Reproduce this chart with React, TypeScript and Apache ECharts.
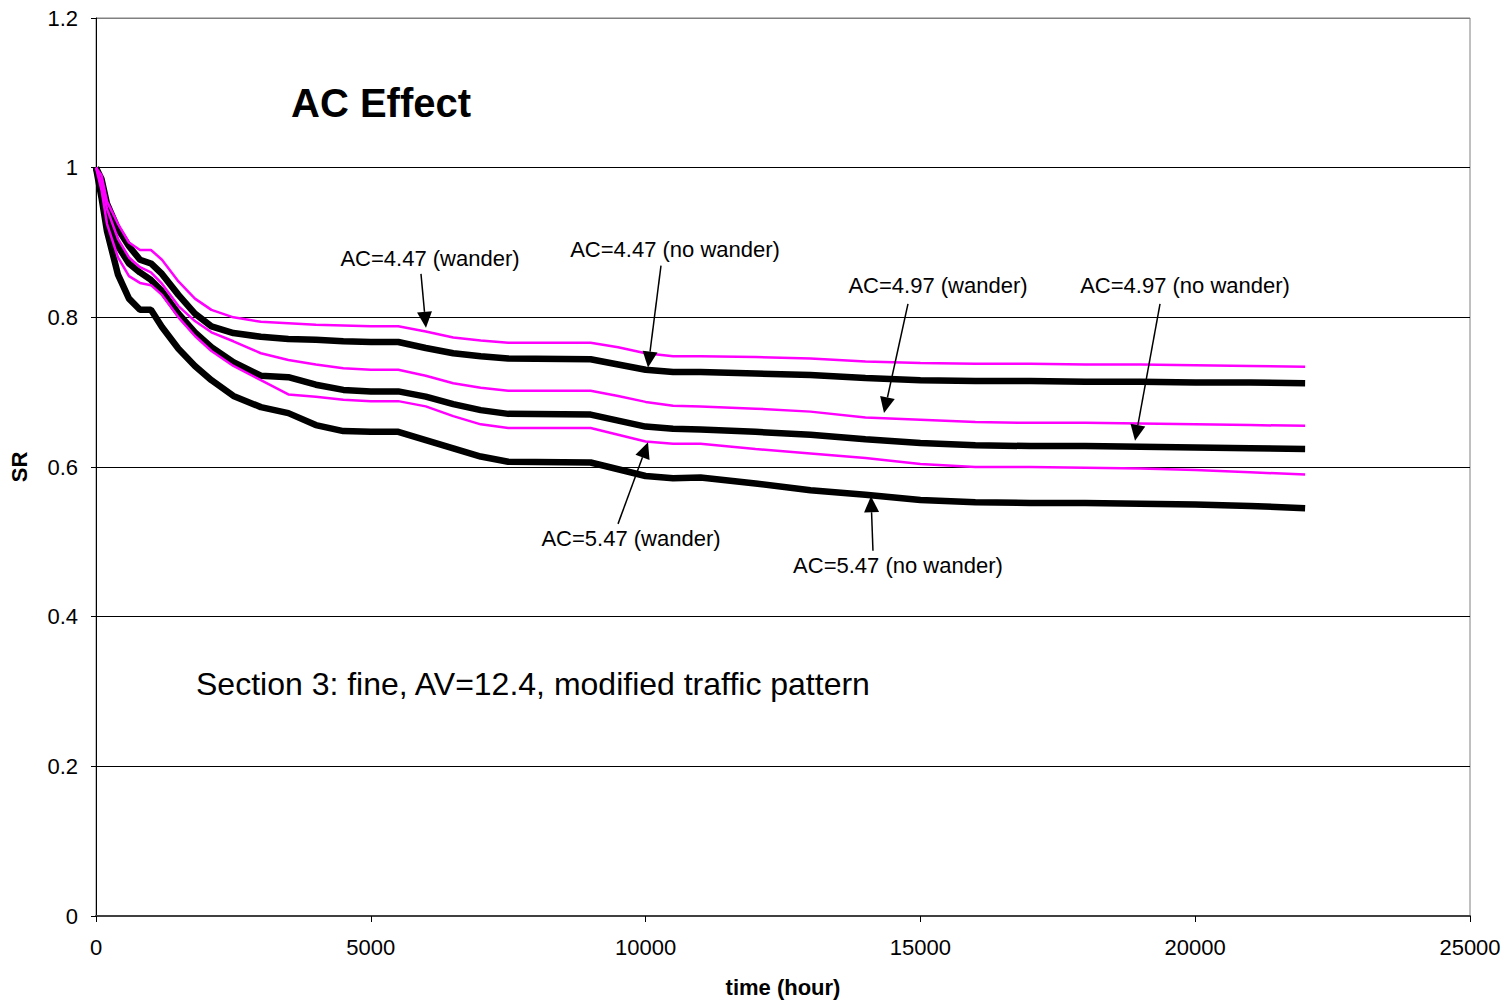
import React, { useEffect, useRef } from "react";
import * as echarts from "echarts";

const hours = [0, 100, 200, 400, 600, 800, 1000, 1200, 1500, 1800, 2100, 2500, 3000, 3500, 4000, 4500, 5000, 5500, 6000, 6500, 7000, 7500, 9000, 9500, 10000, 10500, 11000, 12000, 13000, 14000, 15000, 16000, 17000, 18000, 19000, 20000, 21000, 22000];

const ac447Wander = [1.0, 0.99, 0.955, 0.925, 0.9, 0.89, 0.89, 0.877, 0.848, 0.825, 0.81, 0.8, 0.794, 0.792, 0.79, 0.789, 0.788, 0.788, 0.781, 0.773, 0.769, 0.766, 0.766, 0.76, 0.752, 0.748, 0.748, 0.747, 0.745, 0.741, 0.739, 0.738, 0.738, 0.737, 0.737, 0.736, 0.735, 0.734];
const ac447NoWander = [1.0, 0.985, 0.952, 0.918, 0.895, 0.877, 0.872, 0.858, 0.83, 0.805, 0.788, 0.779, 0.774, 0.771, 0.77, 0.768, 0.767, 0.767, 0.759, 0.752, 0.748, 0.745, 0.744, 0.737, 0.73, 0.727, 0.727, 0.725, 0.723, 0.719, 0.716, 0.715, 0.715, 0.714, 0.714, 0.713, 0.713, 0.712];
const ac497Wander = [1.0, 0.98, 0.945, 0.905, 0.88, 0.867, 0.86, 0.845, 0.815, 0.795, 0.78, 0.768, 0.752, 0.743, 0.737, 0.732, 0.73, 0.73, 0.722, 0.712, 0.706, 0.702, 0.702, 0.695, 0.687, 0.682, 0.681, 0.678, 0.674, 0.666, 0.663, 0.66, 0.659, 0.659, 0.658, 0.657, 0.656, 0.655];
const ac497NoWander = [1.0, 0.978, 0.935, 0.895, 0.872, 0.86, 0.85, 0.835, 0.805, 0.78, 0.76, 0.74, 0.722, 0.72, 0.71, 0.703, 0.701, 0.701, 0.694, 0.684, 0.676, 0.671, 0.67, 0.662, 0.654, 0.651, 0.65, 0.647, 0.643, 0.637, 0.632, 0.629, 0.628, 0.628, 0.627, 0.626, 0.625, 0.624];
const ac547Wander = [1.0, 0.97, 0.925, 0.88, 0.855, 0.846, 0.843, 0.83, 0.8, 0.775, 0.755, 0.735, 0.716, 0.697, 0.694, 0.69, 0.688, 0.688, 0.681, 0.668, 0.657, 0.652, 0.652, 0.643, 0.634, 0.631, 0.631, 0.624, 0.618, 0.612, 0.604, 0.6, 0.6, 0.599, 0.598, 0.596, 0.593, 0.59];
const ac547NoWander = [1.0, 0.96, 0.915, 0.857, 0.825, 0.81, 0.81, 0.787, 0.758, 0.735, 0.716, 0.695, 0.68, 0.672, 0.656, 0.648, 0.647, 0.647, 0.636, 0.625, 0.614, 0.607, 0.606, 0.597, 0.588, 0.585, 0.586, 0.578, 0.569, 0.563, 0.556, 0.553, 0.552, 0.552, 0.551, 0.55, 0.548, 0.545];

const yTicks = ["0", "0.2", "0.4", "0.6", "0.8", "1", "1.2"];
const xTicks = ["0", "5000", "10000", "15000", "20000", "25000"];

// annotation label, label anchor, arrow tail, arrow tip (data coords)
const annotations: { text: string; label: [number, number]; tail: [number, number]; tip: [number, number] }[] = [
  { text: "AC=4.47 (wander)", label: [6077, 0.879], tail: [5913, 0.858], tip: [6004, 0.786] },
  { text: "AC=4.47 (no wander)", label: [10535, 0.89], tail: [10280, 0.869], tip: [10044, 0.733] },
  { text: "AC=4.97 (wander)", label: [15320, 0.842], tail: [14774, 0.818], tip: [14338, 0.672] },
  { text: "AC=4.97 (no wander)", label: [19815, 0.842], tail: [19360, 0.818], tip: [18905, 0.635] },
  { text: "AC=5.47 (wander)", label: [9734, 0.504], tail: [9498, 0.524], tip: [10044, 0.633] },
  { text: "AC=5.47 (no wander)", label: [14592, 0.468], tail: [14137, 0.488], tip: [14101, 0.561] },
];

const FONT = "'Liberation Sans', Arial, sans-serif";

function pairs(ys: number[]) {
  return hours.map((h, i) => [h, ys[i]]);
}

export default function App() {
  const ref = useRef<HTMLDivElement>(null);
  useEffect(() => {
    document.body.style.margin = "0";
    const chart = echarts.init(ref.current!, undefined, { renderer: "svg" });
    const black = (name: string, d: number[]) => ({
      name, type: "line", data: pairs(d), showSymbol: false, symbol: "none",
      lineStyle: { color: "#000", width: 6.5 }, z: 2,
    });
    const mag = (name: string, d: number[]) => ({
      name, type: "line", data: pairs(d), showSymbol: false, symbol: "none",
      lineStyle: { color: "#FF00FF", width: 2.5 }, z: 3,
    });
    chart.setOption({
      animation: false,
      backgroundColor: "#fff",
      textStyle: { fontFamily: FONT },
      grid: { left: 96, right: 38, top: 18, bottom: 89, show: true, borderColor: "#808080", borderWidth: 1 },
      xAxis: {
        type: "value", min: 0, max: 25000, interval: 5000,
        name: "time (hour)", nameLocation: "middle", nameGap: 60,
        nameTextStyle: { fontSize: 22, fontWeight: "bold", color: "#000", fontFamily: FONT },
        axisLine: { lineStyle: { color: "#404040", width: 2 } },
        axisTick: { show: true, inside: false, length: 6, lineStyle: { color: "#000" } },
        axisLabel: {
          fontSize: 22, color: "#000", margin: 20, fontFamily: FONT,
          formatter: (v: number) => xTicks[Math.round(v / 5000)] ?? String(v),
        },
        splitLine: { show: false },
      },
      yAxis: {
        type: "value", min: 0, max: 1.2, interval: 0.2,
        name: "SR", nameLocation: "middle", nameGap: 66,
        nameTextStyle: { fontSize: 22, fontWeight: "bold", color: "#000", fontFamily: FONT },
        axisLine: { show: true, lineStyle: { color: "#000", width: 1 } },
        axisTick: { show: true, inside: false, length: 5, lineStyle: { color: "#000" } },
        axisLabel: {
          fontSize: 22, color: "#000", margin: 18, fontFamily: FONT,
          formatter: (v: number) => yTicks[Math.round(v / 0.2)] ?? String(v),
        },
        splitLine: { show: true, lineStyle: { color: ["#000", "#000", "#000", "#000", "#000", "#000", "#808080"], width: 1 } },
      },
      title: {
        text: "AC Effect", left: 286, top: 78,
        textStyle: { fontSize: 40, fontWeight: "bold", color: "#000", fontFamily: FONT },
      },
      series: [
        black("AC=4.47 (no wander)", ac447NoWander),
        black("AC=4.97 (no wander)", ac497NoWander),
        black("AC=5.47 (no wander)", ac547NoWander),
        mag("AC=4.47 (wander)", ac447Wander),
        mag("AC=4.97 (wander)", ac497Wander),
        mag("AC=5.47 (wander)", ac547Wander),
      ],
    });

    const px = (p: [number, number]) => chart.convertToPixel({ gridIndex: 0 }, p) as number[];
    const elements: any[] = [];
    annotations.forEach((a) => {
      const [lx, ly] = px(a.label);
      const [tx, ty] = px(a.tail);
      const [hx, hy] = px(a.tip);
      const dx = hx - tx, dy = hy - ty;
      const len = Math.sqrt(dx * dx + dy * dy);
      const ux = dx / len, uy = dy / len;
      const nx = -uy, ny = ux;
      const L = 16, W = 15;
      const bx = hx - ux * L, by = hy - uy * L;
      elements.push({
        type: "line", shape: { x1: tx, y1: ty, x2: bx, y2: by },
        style: { stroke: "#000", lineWidth: 1.5 }, z: 10,
      });
      elements.push({
        type: "polygon",
        shape: { points: [[hx, hy], [bx + nx * W / 2, by + ny * W / 2], [bx - nx * W / 2, by - ny * W / 2]] },
        style: { fill: "#000" }, z: 10,
      });
      elements.push({
        type: "text", x: lx, y: ly,
        style: { text: a.text, fontSize: 22, fontFamily: FONT, fill: "#000", align: "center", verticalAlign: "middle" },
        z: 10,
      });
    });
    elements.push({
      type: "text", left: 196, top: 668,
      style: { text: "Section 3: fine, AV=12.4, modified traffic pattern", fontSize: 32, fontFamily: FONT, fill: "#000" },
      z: 10,
    });
    chart.setOption({ graphic: elements });
    return () => chart.dispose();
  }, []);
  return <div ref={ref} style={{ width: 1508, height: 1005 }} />;
}
